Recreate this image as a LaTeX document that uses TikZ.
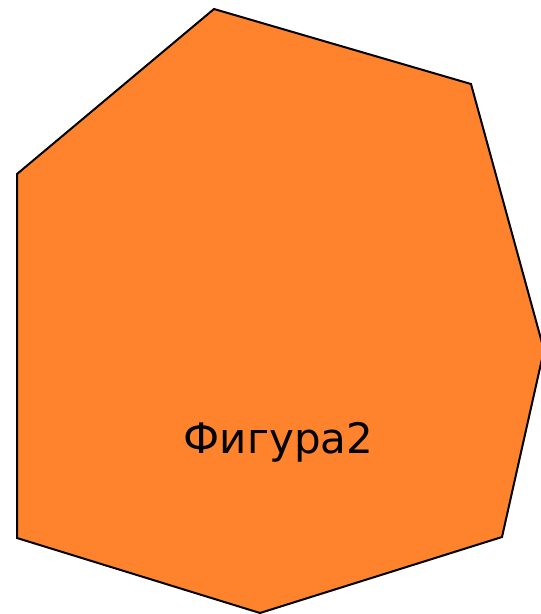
\documentclass[tikz,border=0pt]{standalone}
\usepackage{fontspec}
\setmainfont{DejaVu Sans}
\usepackage{tikz}
\definecolor{figfill}{RGB}{255,131,44}

\begin{document}
\begin{tikzpicture}[
  x=1pt,y=-1pt,
  shapebox/.style={draw=black,fill=figfill,line width=2pt,line join=miter},
  lbl/.style={font=\fontsize{42}{48}\selectfont,text=black},
]
\useasboundingbox (0,0) rectangle (541,614);
% the polygon
\draw[shapebox] (214,9) -- (471,84) -- (544,350) -- (502,537)
  -- (260,613) -- (17,538) -- (17,174) -- cycle;
\node[lbl] (name) at (278.5,442) {Фигура2};
\end{tikzpicture}
\end{document}
